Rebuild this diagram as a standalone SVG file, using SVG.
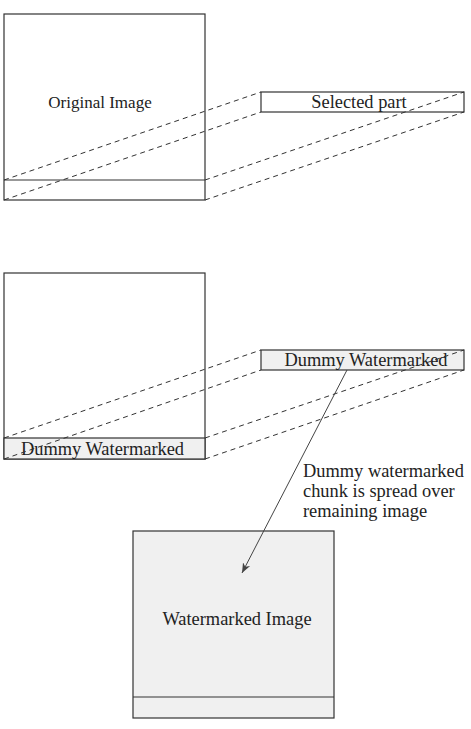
<svg xmlns="http://www.w3.org/2000/svg" width="471" height="729" viewBox="0 0 471 729">
<style>
.box{fill:#fff;stroke:#333;stroke-width:1.2}
.gbox{fill:#f0f0f0;stroke:#333;stroke-width:1.2}
.dash{fill:none;stroke:#333;stroke-width:1;stroke-dasharray:5,4}
.t{font-family:"Liberation Serif","Times New Roman",serif;font-size:18.4px;fill:#222}
.arrow{fill:none;stroke:#444;stroke-width:1}
</style>
<defs>
<marker id="ah" markerWidth="12" markerHeight="10" refX="10" refY="5" orient="auto" markerUnits="userSpaceOnUse">
<path d="M0,1 L10,5 L0,9 L3,5 Z" fill="#444"/>
</marker>
</defs>
<g id="original">
<rect class="box" x="4" y="14" width="201" height="186"/>
<line x1="4" y1="180" x2="205" y2="180" stroke="#333" stroke-width="1.2"/>
<text class="t" x="100" y="108" text-anchor="middle" style="font-size:17px">Original Image</text>
</g>
<g id="selected">
<rect class="box" x="261" y="92" width="203" height="20"/>
<text class="t" x="359" y="108" text-anchor="middle">Selected part</text>
</g>
<g id="dummy-source">
<rect class="box" x="4" y="273" width="201" height="186"/>
<rect class="gbox" x="4" y="438" width="201" height="21"/>
<text class="t" x="102.5" y="455" text-anchor="middle">Dummy Watermarked</text>
</g>
<g id="dummy-part">
<rect class="gbox" x="261" y="350" width="203" height="20"/>
<text class="t" x="366" y="366" text-anchor="middle">Dummy Watermarked</text>
</g>
<g id="watermarked">
<rect class="gbox" x="133" y="531" width="201" height="187"/>
<line x1="133" y1="697" x2="334" y2="697" stroke="#333" stroke-width="1.2"/>
<text class="t" x="237" y="625" text-anchor="middle">Watermarked Image</text>
</g>
<g id="note">
<text class="t" x="303" y="477">Dummy watermarked</text>
<text class="t" x="303" y="497">chunk is spread over</text>
<text class="t" x="303" y="517">remaining image</text>
</g>
<g id="connectors">
<line class="dash" x1="4" y1="180" x2="261" y2="92"/>
<line class="dash" x1="4" y1="200" x2="261" y2="112"/>
<line class="dash" x1="205" y1="180" x2="464" y2="92"/>
<line class="dash" x1="205" y1="200" x2="464" y2="112"/>
<line class="dash" x1="4" y1="438" x2="261" y2="350"/>
<line class="dash" x1="4" y1="459" x2="261" y2="370"/>
<line class="dash" x1="205" y1="438" x2="464" y2="350"/>
<line class="dash" x1="205" y1="459" x2="464" y2="370"/>
<line class="arrow" x1="347" y1="370" x2="242" y2="573" marker-end="url(#ah)"/>
</g>
</svg>
